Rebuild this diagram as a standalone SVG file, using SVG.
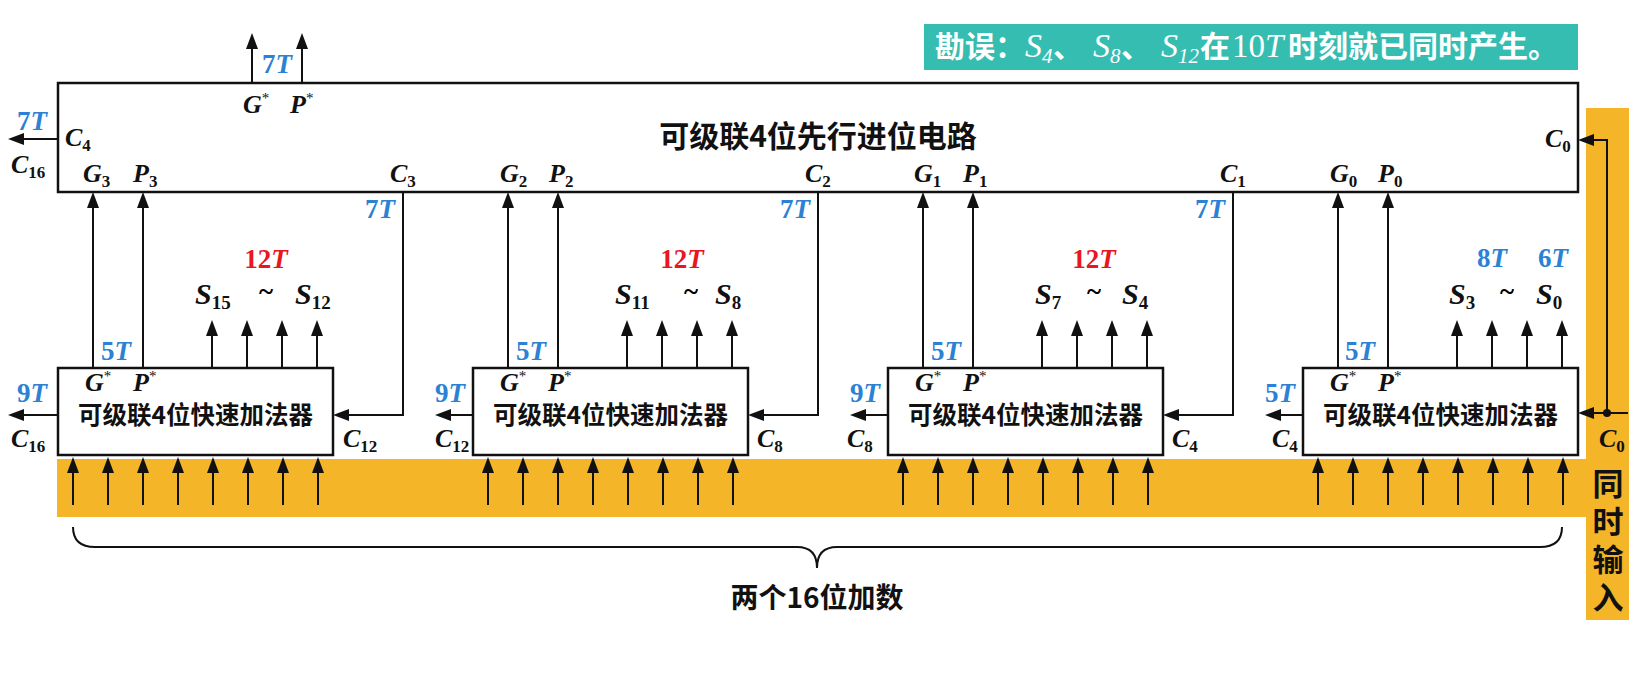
<svg xmlns="http://www.w3.org/2000/svg" width="1647" height="684" viewBox="0 0 1647 684">
<defs>
<marker id="ah" viewBox="0 0 16 12" refX="13" refY="6" markerWidth="16" markerHeight="12" markerUnits="userSpaceOnUse" orient="auto">
<path d="M0,0 L16,6 L0,12 z" fill="#111"/>
</marker>
</defs>
<style>
.ln{stroke:#111;stroke-width:2;fill:none}
.ar{stroke:#111;stroke-width:2;fill:none;marker-end:url(#ah)}
.box{fill:#fff;stroke:#111;stroke-width:2.5}
.m{font-family:"Liberation Serif",serif;font-weight:bold;font-style:italic;font-size:26px;fill:#111}
.s{font-size:30px}
.sub{font-style:normal;font-size:17px}
.s .sub{font-size:19px}
.sup{font-style:normal;font-weight:normal;font-size:15px}
.t{font-family:"Liberation Serif",serif;font-weight:bold;font-size:27px}
.t .i{font-style:italic}
.blue{fill:#2b82d5}
.red{fill:#e8161e}
.cn{font-family:"Noto Sans CJK SC",sans-serif;font-weight:bold;fill:#111}
.bt{font-family:"Noto Sans CJK SC",sans-serif;font-weight:bold;font-size:30px;fill:#fff}
.bm{font-family:"Liberation Serif",serif;font-style:italic;font-weight:normal}
.org{fill:#f4b528}
</style>
<rect width="1647" height="684" fill="#fff"/>

<g id="inputs">
<rect class="org" x="57" y="459" width="1572" height="58"/>
<rect class="org" x="1586" y="108" width="43" height="512"/>
<text class="cn" font-size="31" x="1608" y="468" writing-mode="vertical-rl" letter-spacing="7">同时输入</text>
<path class="ln" d="M73,527 Q73,547 95,547 L797,547 Q817,547 817,568 Q817,547 837,547 L1540,547 Q1562,547 1562,527"/>
<text class="cn" font-size="28" x="817" y="608" text-anchor="middle">两个16位加数</text>
</g>

<g id="banner">
<rect x="924" y="24" width="654" height="46" fill="#36bdb1"/>
<text class="bt" y="57"><tspan x="935">勘误：</tspan><tspan class="bm" x="1025" font-size="34">S</tspan><tspan class="bm" font-size="21" dy="6">4</tspan><tspan x="1053" dy="-6">、</tspan><tspan class="bm" x="1093" font-size="34">S</tspan><tspan class="bm" font-size="21" dy="6">8</tspan><tspan x="1121" dy="-6">、</tspan><tspan class="bm" x="1161" font-size="34">S</tspan><tspan class="bm" font-size="21" dy="6">12</tspan><tspan x="1200" dy="-6">在</tspan><tspan x="1232" font-family="Liberation Serif" font-weight="normal" font-size="33">10</tspan><tspan class="bm" font-size="33">T</tspan><tspan x="1288">时刻就已同时产生。</tspan></text>
</g>

<g id="connectors">
<line class="ar" x1="252" y1="83" x2="252" y2="36"/>
<line class="ar" x1="302" y1="83" x2="302" y2="36"/>
<line class="ar" x1="58" y1="139" x2="11" y2="139"/>
<path class="ar" d="M1628,413 L1581,413"/>
<path class="ar" d="M1607,413 L1607,140 L1581,140"/>
<circle cx="1607" cy="413" r="4" fill="#111"/>
<path class="ar" d="M403,192 L403,415 L336,415"/>
<path class="ar" d="M818,192 L818,415 L751,415"/>
<path class="ar" d="M1233,192 L1233,415 L1166,415"/>
<line class="ar" x1="93" y1="368" x2="93" y2="195"/>
<line class="ar" x1="143" y1="368" x2="143" y2="195"/>
<line class="ar" x1="508" y1="368" x2="508" y2="195"/>
<line class="ar" x1="558" y1="368" x2="558" y2="195"/>
<line class="ar" x1="923" y1="368" x2="923" y2="195"/>
<line class="ar" x1="973" y1="368" x2="973" y2="195"/>
<line class="ar" x1="1338" y1="368" x2="1338" y2="195"/>
<line class="ar" x1="1388" y1="368" x2="1388" y2="195"/>
<line class="ar" x1="212" y1="368" x2="212" y2="323"/><line class="ar" x1="247" y1="368" x2="247" y2="323"/><line class="ar" x1="282" y1="368" x2="282" y2="323"/><line class="ar" x1="317" y1="368" x2="317" y2="323"/>
<line class="ar" x1="627" y1="368" x2="627" y2="323"/><line class="ar" x1="662" y1="368" x2="662" y2="323"/><line class="ar" x1="697" y1="368" x2="697" y2="323"/><line class="ar" x1="732" y1="368" x2="732" y2="323"/>
<line class="ar" x1="1042" y1="368" x2="1042" y2="323"/><line class="ar" x1="1077" y1="368" x2="1077" y2="323"/><line class="ar" x1="1112" y1="368" x2="1112" y2="323"/><line class="ar" x1="1147" y1="368" x2="1147" y2="323"/>
<line class="ar" x1="1457" y1="368" x2="1457" y2="323"/><line class="ar" x1="1492" y1="368" x2="1492" y2="323"/><line class="ar" x1="1527" y1="368" x2="1527" y2="323"/><line class="ar" x1="1562" y1="368" x2="1562" y2="323"/>
<line class="ar" x1="58" y1="415" x2="11" y2="415"/>
<line class="ar" x1="473" y1="415" x2="438" y2="415"/>
<line class="ar" x1="888" y1="415" x2="853" y2="415"/>
<line class="ar" x1="1303" y1="415" x2="1268" y2="415"/>
<g>
<line class="ar" x1="73" y1="505" x2="73" y2="460"/><line class="ar" x1="108" y1="505" x2="108" y2="460"/><line class="ar" x1="143" y1="505" x2="143" y2="460"/><line class="ar" x1="178" y1="505" x2="178" y2="460"/><line class="ar" x1="213" y1="505" x2="213" y2="460"/><line class="ar" x1="248" y1="505" x2="248" y2="460"/><line class="ar" x1="283" y1="505" x2="283" y2="460"/><line class="ar" x1="318" y1="505" x2="318" y2="460"/>
<line class="ar" x1="488" y1="505" x2="488" y2="460"/><line class="ar" x1="523" y1="505" x2="523" y2="460"/><line class="ar" x1="558" y1="505" x2="558" y2="460"/><line class="ar" x1="593" y1="505" x2="593" y2="460"/><line class="ar" x1="628" y1="505" x2="628" y2="460"/><line class="ar" x1="663" y1="505" x2="663" y2="460"/><line class="ar" x1="698" y1="505" x2="698" y2="460"/><line class="ar" x1="733" y1="505" x2="733" y2="460"/>
<line class="ar" x1="903" y1="505" x2="903" y2="460"/><line class="ar" x1="938" y1="505" x2="938" y2="460"/><line class="ar" x1="973" y1="505" x2="973" y2="460"/><line class="ar" x1="1008" y1="505" x2="1008" y2="460"/><line class="ar" x1="1043" y1="505" x2="1043" y2="460"/><line class="ar" x1="1078" y1="505" x2="1078" y2="460"/><line class="ar" x1="1113" y1="505" x2="1113" y2="460"/><line class="ar" x1="1148" y1="505" x2="1148" y2="460"/>
<line class="ar" x1="1318" y1="505" x2="1318" y2="460"/><line class="ar" x1="1353" y1="505" x2="1353" y2="460"/><line class="ar" x1="1388" y1="505" x2="1388" y2="460"/><line class="ar" x1="1423" y1="505" x2="1423" y2="460"/><line class="ar" x1="1458" y1="505" x2="1458" y2="460"/><line class="ar" x1="1493" y1="505" x2="1493" y2="460"/><line class="ar" x1="1528" y1="505" x2="1528" y2="460"/><line class="ar" x1="1563" y1="505" x2="1563" y2="460"/>
</g>
<text class="t blue" x="277" y="73" text-anchor="middle">7<tspan class="i">T</tspan></text>
<text class="t blue" x="17" y="130">7<tspan class="i">T</tspan></text>
<text class="t blue" x="395" y="218" text-anchor="end">7<tspan class="i">T</tspan></text>
<text class="t blue" x="810" y="218" text-anchor="end">7<tspan class="i">T</tspan></text>
<text class="t blue" x="1225" y="218" text-anchor="end">7<tspan class="i">T</tspan></text>
</g>

<g id="lookahead">
<rect class="box" x="58" y="83" width="1520" height="109"/>
<text class="cn" font-size="30" x="818" y="147" text-anchor="middle">可级联4位先行进位电路</text>
<text class="m" x="243" y="113">G<tspan class="sup" dy="-10">*</tspan></text>
<text class="m" x="290" y="113">P<tspan class="sup" dy="-10">*</tspan></text>
<text class="m" x="65" y="146">C<tspan class="sub" dy="5">4</tspan></text>
<text class="m" x="11" y="173">C<tspan class="sub" dy="5">16</tspan></text>
<text class="m" x="1545" y="147">C<tspan class="sub" dy="5">0</tspan></text>
<text class="m" x="83" y="182">G<tspan class="sub" dy="5">3</tspan></text>
<text class="m" x="133" y="182">P<tspan class="sub" dy="5">3</tspan></text>
<text class="m" x="390" y="182">C<tspan class="sub" dy="5">3</tspan></text>
<text class="m" x="500" y="182">G<tspan class="sub" dy="5">2</tspan></text>
<text class="m" x="549" y="182">P<tspan class="sub" dy="5">2</tspan></text>
<text class="m" x="805" y="182">C<tspan class="sub" dy="5">2</tspan></text>
<text class="m" x="914" y="182">G<tspan class="sub" dy="5">1</tspan></text>
<text class="m" x="963" y="182">P<tspan class="sub" dy="5">1</tspan></text>
<text class="m" x="1220" y="182">C<tspan class="sub" dy="5">1</tspan></text>
<text class="m" x="1330" y="182">G<tspan class="sub" dy="5">0</tspan></text>
<text class="m" x="1378" y="182">P<tspan class="sub" dy="5">0</tspan></text>
</g>

<g id="adder3">
<rect class="box" x="58" y="368" width="275" height="87"/>
<text class="cn" font-size="24.5" x="195.5" y="424" text-anchor="middle">可级联4位快速加法器</text>
<text class="m" x="85" y="391">G<tspan class="sup" dy="-10">*</tspan></text>
<text class="m" x="133" y="391">P<tspan class="sup" dy="-10">*</tspan></text>
<text class="t blue" x="101" y="360">5<tspan class="i">T</tspan></text>
<text class="t red" x="266" y="268" text-anchor="middle">12<tspan class="i">T</tspan></text>
<text class="m s" x="195" y="304">S<tspan class="sub" dy="5">15</tspan></text>
<text class="t" x="266" y="300" text-anchor="middle">~</text>
<text class="m s" x="295" y="304">S<tspan class="sub" dy="5">12</tspan></text>
<text class="t blue" x="17" y="402">9<tspan class="i">T</tspan></text>
<text class="m" x="11" y="447">C<tspan class="sub" dy="5">16</tspan></text>
<text class="m" x="343" y="447">C<tspan class="sub" dy="5">12</tspan></text>
</g>

<g id="adder2">
<rect class="box" x="473" y="368" width="275" height="87"/>
<text class="cn" font-size="24.5" x="610.5" y="424" text-anchor="middle">可级联4位快速加法器</text>
<text class="m" x="500" y="391">G<tspan class="sup" dy="-10">*</tspan></text>
<text class="m" x="548" y="391">P<tspan class="sup" dy="-10">*</tspan></text>
<text class="t blue" x="516" y="360">5<tspan class="i">T</tspan></text>
<text class="t red" x="682" y="268" text-anchor="middle">12<tspan class="i">T</tspan></text>
<text class="m s" x="615" y="304">S<tspan class="sub" dy="5">11</tspan></text>
<text class="t" x="691" y="300" text-anchor="middle">~</text>
<text class="m s" x="715" y="304">S<tspan class="sub" dy="5">8</tspan></text>
<text class="t blue" x="435" y="402">9<tspan class="i">T</tspan></text>
<text class="m" x="435" y="447">C<tspan class="sub" dy="5">12</tspan></text>
<text class="m" x="757" y="447">C<tspan class="sub" dy="5">8</tspan></text>
</g>

<g id="adder1">
<rect class="box" x="888" y="368" width="275" height="87"/>
<text class="cn" font-size="24.5" x="1025.5" y="424" text-anchor="middle">可级联4位快速加法器</text>
<text class="m" x="915" y="391">G<tspan class="sup" dy="-10">*</tspan></text>
<text class="m" x="963" y="391">P<tspan class="sup" dy="-10">*</tspan></text>
<text class="t blue" x="931" y="360">5<tspan class="i">T</tspan></text>
<text class="t red" x="1094" y="268" text-anchor="middle">12<tspan class="i">T</tspan></text>
<text class="m s" x="1035" y="304">S<tspan class="sub" dy="5">7</tspan></text>
<text class="t" x="1094" y="300" text-anchor="middle">~</text>
<text class="m s" x="1122" y="304">S<tspan class="sub" dy="5">4</tspan></text>
<text class="t blue" x="850" y="402">9<tspan class="i">T</tspan></text>
<text class="m" x="847" y="447">C<tspan class="sub" dy="5">8</tspan></text>
<text class="m" x="1172" y="447">C<tspan class="sub" dy="5">4</tspan></text>
</g>

<g id="adder0">
<rect class="box" x="1303" y="368" width="275" height="87"/>
<text class="cn" font-size="24.5" x="1440.5" y="424" text-anchor="middle">可级联4位快速加法器</text>
<text class="m" x="1330" y="391">G<tspan class="sup" dy="-10">*</tspan></text>
<text class="m" x="1378" y="391">P<tspan class="sup" dy="-10">*</tspan></text>
<text class="t blue" x="1345" y="360">5<tspan class="i">T</tspan></text>
<text class="t blue" x="1492" y="267" text-anchor="middle">8<tspan class="i">T</tspan></text>
<text class="t blue" x="1553" y="267" text-anchor="middle">6<tspan class="i">T</tspan></text>
<text class="m s" x="1449" y="304">S<tspan class="sub" dy="5">3</tspan></text>
<text class="t" x="1507" y="300" text-anchor="middle">~</text>
<text class="m s" x="1536" y="304">S<tspan class="sub" dy="5">0</tspan></text>
<text class="t blue" x="1265" y="402">5<tspan class="i">T</tspan></text>
<text class="m" x="1272" y="447">C<tspan class="sub" dy="5">4</tspan></text>
<text class="m" x="1599" y="447">C<tspan class="sub" dy="5">0</tspan></text>
</g>
</svg>
